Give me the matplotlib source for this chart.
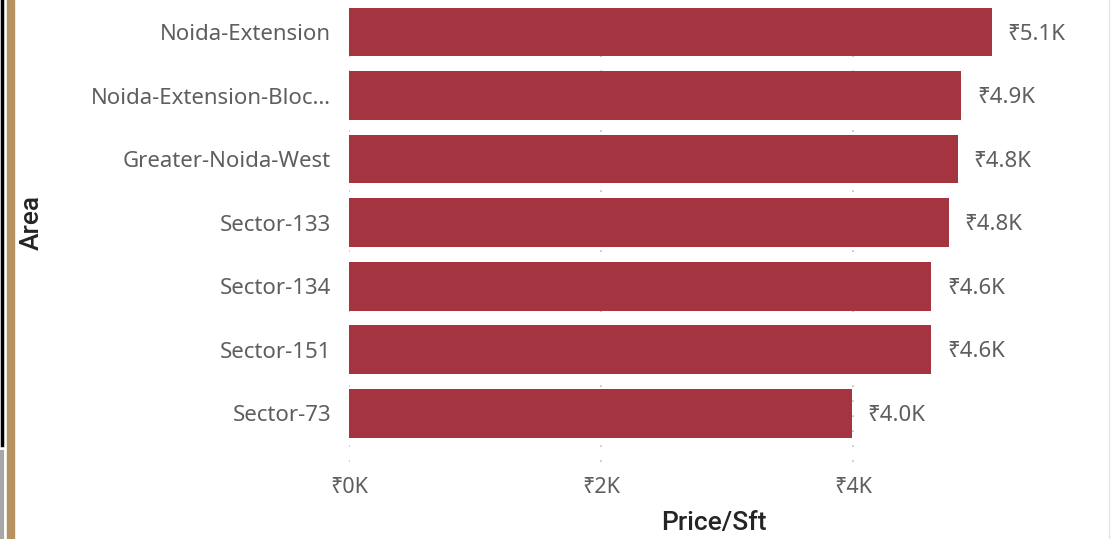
import matplotlib
matplotlib.use("Agg")
import matplotlib.pyplot as plt
from matplotlib.lines import Line2D
from matplotlib.patches import Rectangle

areas = ["Noida-Extension", "Noida-Extension-Bloc…", "Greater-Noida-West",
         "Sector-133", "Sector-134", "Sector-151", "Sector-73"]
price_k = [5.10, 4.86, 4.83, 4.76, 4.62, 4.62, 3.99]
xticks = [0, 2, 4]
xtick_labels = ["₹0K", "₹2K", "₹4K"]

FONT = ["Noto Sans", "DejaVu Sans"]
plt.rcParams["font.family"] = FONT

W, H = 1112, 539
fig = plt.figure(figsize=(W / 100, H / 100), dpi=100)
fig.patch.set_facecolor("white")

left_px, right_px, top_px, bot_px = 349, 1100, 0, 462
ax = fig.add_axes([left_px / W, 1 - bot_px / H, (right_px - left_px) / W, (bot_px - top_px) / H])
ax.set_facecolor("white")

ypos = list(range(len(areas)))
ax.barh(ypos, price_k, height=0.77, color="#A4343F", zorder=3)

ax.set_xlim(0, (right_px - left_px) / 126.0)
ax.set_ylim(6.77, -0.504)

for v in xticks:
    ax.axvline(v, color="#BEBEBE", linestyle=(0, (1, 8)), linewidth=1.2, zorder=1)

ax.set_xticks(xticks)
ax.set_xticklabels(xtick_labels, fontsize=15.5, color="#605E5C")
ax.set_yticks(ypos)
ax.set_yticklabels(areas, fontsize=16, color="#605E5C")
ax.tick_params(axis="both", length=0)
ax.tick_params(axis="y", pad=13)
ax.tick_params(axis="x", pad=11)
for s in ax.spines.values():
    s.set_visible(False)

for y, v in zip(ypos, price_k):
    ax.annotate(f"₹{v:.1f}K", xy=(v, y), xytext=(11.5, -1.5), textcoords="offset points",
                ha="left", va="center", fontsize=16, color="#605E5C")

TITLE_FONT = ["Roboto", "DejaVu Sans"]
fig.text(32 / W, 1 - 222 / H, "Area", rotation=90, ha="center", va="center",
         fontsize=19, color="#252423", fontweight="medium", family=TITLE_FONT)
fig.text(714 / W, 1 - 523 / H, "Price/Sft", ha="center", va="center",
         fontsize=19, color="#252423", fontweight="medium", family=TITLE_FONT)

# decorative frame elements
fig.add_artist(Line2D([1.5 / W, 1.5 / W], [1, 1 - 445 / H], color="black", linewidth=2.5))
fig.add_artist(Line2D([1.5 / W, 1.5 / W], [1 - 452 / H, 0], color="#A8A8A8", linewidth=3))
fig.add_artist(Rectangle((7 / W, 0), 7 / W, 1, color="#B5925F", transform=fig.transFigure))
fig.add_artist(Line2D([1108.5 / W, 1108.5 / W], [1, 0], color="#E6E6E6", linewidth=1))

fig.savefig("out.png", dpi=100)
